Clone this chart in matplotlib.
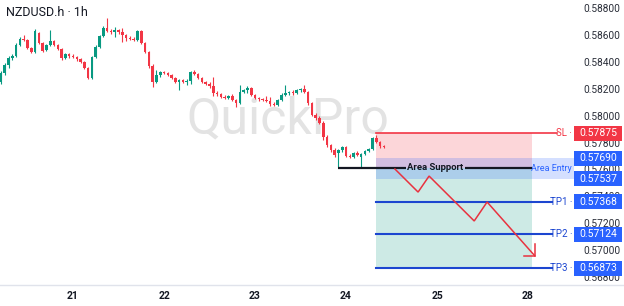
import matplotlib
matplotlib.use("Agg")
import matplotlib.pyplot as plt
import matplotlib.transforms as mtransforms
from matplotlib.patches import Rectangle
import numpy as np

plt.rcParams['font.family'] = ['Roboto', 'DejaVu Sans']

# ---------------- data ----------------
title = "NZDUSD.h · 1h"
watermark = "QuickPro"
day_labels = ["21", "22", "23", "24", "25", "28"]
day_hours = [0, 24, 48, 72, 96, 120]
first_hour = -19

opens = [0.58257, 0.58324, 0.58384, 0.58436, 0.58451, 0.58532, 0.58577, 0.58570, 0.58510, 0.58480, 0.58620, 0.58547,
         0.58495, 0.58532, 0.58562, 0.58532, 0.58503, 0.58436, 0.58466, 0.58451, 0.58443, 0.58428, 0.58406, 0.58361,
         0.58287, 0.58443, 0.58518, 0.58599, 0.58659, 0.58637, 0.58629, 0.58644, 0.58629, 0.58607, 0.58584, 0.58577,
         0.58570, 0.58637, 0.58547, 0.58480, 0.58376, 0.58257, 0.58309, 0.58332, 0.58324, 0.58309, 0.58287, 0.58257,
         0.58272, 0.58257, 0.58265, 0.58332, 0.58317, 0.58287, 0.58257, 0.58242, 0.58228, 0.58175, 0.58168, 0.58146,
         0.58138, 0.58153, 0.58123, 0.58101, 0.58183, 0.58198, 0.58213, 0.58161, 0.58138, 0.58131, 0.58123, 0.58116,
         0.58094, 0.58086, 0.58123, 0.58161, 0.58175, 0.58183, 0.58175, 0.58198, 0.58205, 0.58183, 0.58101, 0.58012,
         0.57990, 0.57952, 0.57848, 0.57789, 0.57752, 0.57729, 0.57752, 0.57774, 0.57707, 0.57700, 0.57729, 0.57700,
         0.57722, 0.57744, 0.57759, 0.57841, 0.57811, 0.57782]
highs = [0.58339, 0.58399, 0.58451, 0.58466, 0.58547, 0.58592, 0.58607, 0.58577, 0.58518, 0.58651, 0.58629, 0.58555,
         0.58540, 0.58644, 0.58570, 0.58540, 0.58510, 0.58473, 0.58473, 0.58466, 0.58451, 0.58436, 0.58414, 0.58369,
         0.58451, 0.58532, 0.58607, 0.58674, 0.58733, 0.58651, 0.58666, 0.58651, 0.58659, 0.58614, 0.58599, 0.58592,
         0.58644, 0.58644, 0.58555, 0.58488, 0.58391, 0.58347, 0.58339, 0.58339, 0.58332, 0.58317, 0.58294, 0.58280,
         0.58280, 0.58280, 0.58339, 0.58347, 0.58324, 0.58294, 0.58265, 0.58257, 0.58294, 0.58190, 0.58175, 0.58161,
         0.58161, 0.58168, 0.58131, 0.58235, 0.58205, 0.58228, 0.58220, 0.58168, 0.58146, 0.58138, 0.58153, 0.58146,
         0.58109, 0.58131, 0.58175, 0.58235, 0.58190, 0.58198, 0.58205, 0.58213, 0.58235, 0.58190, 0.58109, 0.58027,
         0.58005, 0.57967, 0.57863, 0.57796, 0.57767, 0.57759, 0.57782, 0.57782, 0.57722, 0.57737, 0.57744, 0.57729,
         0.57752, 0.57767, 0.57848, 0.57863, 0.57819, 0.57789]
lows = [0.58242, 0.58309, 0.58361, 0.58421, 0.58443, 0.58525, 0.58562, 0.58503, 0.58473, 0.58473, 0.58540, 0.58480,
        0.58488, 0.58525, 0.58525, 0.58495, 0.58421, 0.58428, 0.58436, 0.58436, 0.58414, 0.58399, 0.58354, 0.58280,
        0.58280, 0.58436, 0.58510, 0.58592, 0.58629, 0.58614, 0.58592, 0.58614, 0.58555, 0.58562, 0.58570, 0.58562,
        0.58562, 0.58540, 0.58473, 0.58361, 0.58220, 0.58250, 0.58294, 0.58317, 0.58302, 0.58280, 0.58250, 0.58198,
        0.58250, 0.58235, 0.58242, 0.58309, 0.58280, 0.58250, 0.58235, 0.58213, 0.58153, 0.58153, 0.58138, 0.58131,
        0.58131, 0.58116, 0.58070, 0.58094, 0.58175, 0.58175, 0.58153, 0.58131, 0.58116, 0.58116, 0.58109, 0.58079,
        0.58079, 0.58079, 0.58116, 0.58153, 0.58161, 0.58161, 0.58168, 0.58183, 0.58175, 0.58086, 0.58005, 0.57975,
        0.57945, 0.57826, 0.57774, 0.57737, 0.57700, 0.57625, 0.57737, 0.57700, 0.57692, 0.57692, 0.57707, 0.57625,
        0.57715, 0.57737, 0.57752, 0.57804, 0.57767, 0.57767]
closes = [0.58324, 0.58384, 0.58436, 0.58451, 0.58532, 0.58577, 0.58570, 0.58510, 0.58480, 0.58637, 0.58547, 0.58488,
          0.58532, 0.58562, 0.58532, 0.58503, 0.58436, 0.58466, 0.58451, 0.58443, 0.58428, 0.58406, 0.58361, 0.58287,
          0.58443, 0.58518, 0.58599, 0.58659, 0.58637, 0.58629, 0.58644, 0.58629, 0.58607, 0.58584, 0.58577, 0.58570,
          0.58637, 0.58547, 0.58480, 0.58376, 0.58257, 0.58309, 0.58332, 0.58324, 0.58309, 0.58287, 0.58257, 0.58272,
          0.58257, 0.58265, 0.58332, 0.58317, 0.58287, 0.58257, 0.58242, 0.58228, 0.58175, 0.58168, 0.58146, 0.58138,
          0.58153, 0.58123, 0.58101, 0.58183, 0.58198, 0.58213, 0.58161, 0.58138, 0.58131, 0.58123, 0.58116, 0.58094,
          0.58086, 0.58123, 0.58161, 0.58175, 0.58183, 0.58175, 0.58198, 0.58205, 0.58183, 0.58101, 0.58012, 0.57990,
          0.57952, 0.57848, 0.57789, 0.57752, 0.57715, 0.57752, 0.57774, 0.57707, 0.57700, 0.57729, 0.57715, 0.57722,
          0.57744, 0.57759, 0.57841, 0.57811, 0.57782, 0.57774]

price_ticks = [0.588, 0.586, 0.584, 0.582, 0.580, 0.578, 0.576, 0.574, 0.572, 0.570, 0.568]

sl_price = 0.57875
entry_high = 0.57690
entry_low = 0.57537
support_price = 0.57618
tp_prices = [0.57368, 0.57124, 0.56873]
tp_names = ["TP1", "TP2", "TP3"]

zigzag_hours = [84.9, 91.0, 93.9, 105.8, 109.2, 121.8]
zigzag_prices = [0.57610, 0.57439, 0.57558, 0.57224, 0.57365, 0.56964]

# ---------------- style ----------------
UP = '#089981'
DOWN = '#f23645'
BLUE = '#2962ff'
LINEBLUE = '#1c46d0'
TEXT = '#131722'

W, H = 624, 306
fig = plt.figure(figsize=(W / 100, H / 100), dpi=100)
ax = fig.add_axes([0, 21 / H, 1, 285 / H])
ymin, ymax = 0.56748, 0.58867
xmin, xmax = -19.25, 145.3
ax.set_xlim(xmin, xmax)
ax.set_ylim(ymin, ymax)
ppx = (ymax - ymin) / 285.0   # price per pixel
hpx = (xmax - xmin) / W       # hours per pixel

for s in ['top', 'left', 'right']:
    ax.spines[s].set_visible(False)
ax.spines['bottom'].set_color('#e0e3eb')
ax.spines['bottom'].set_linewidth(1.0)
ax.set_yticks([])
ax.set_xticks(day_hours)
ax.set_xticklabels(day_labels, fontsize=7.5, fontweight='bold', color=TEXT)
ax.tick_params(axis='x', length=0, pad=4.5)

# watermark
ax.text(56.7, 0.57878, watermark, fontsize=36, color='#e3e3e3', ha='center',
        va='baseline', zorder=0)

# title
fig.text(6 / W, 1 - 12 / H, title, fontsize=9, color=TEXT, ha='left', va='center',
         bbox=dict(facecolor='white', edgecolor='none', pad=1.5), zorder=10)

# candles
o = np.array(opens); h = np.array(highs); l = np.array(lows); c = np.array(closes)
xs = np.arange(len(o)) + first_hour
cols = np.where(c >= o, UP, DOWN)
ax.vlines(xs, l, h, colors=cols, linewidth=0.8, zorder=3)
bottoms = np.minimum(o, c)
heights = np.maximum(np.abs(c - o), 0.00003)
ax.bar(xs, heights, bottom=bottoms, width=0.68, color=cols, linewidth=0, zorder=4)

# zones
x_start = 80.0
x_end = 121.05
x_band_end = 132.1
ax.fill_between([x_start, x_end], support_price, sl_price, color=DOWN, alpha=0.2,
                linewidth=0, zorder=1)
ax.fill_between([x_start, x_end], tp_prices[-1], support_price, color=UP, alpha=0.2,
                linewidth=0, zorder=1)
ax.fill_between([x_start, x_band_end], entry_low, entry_high, color=BLUE, alpha=0.2,
                linewidth=0, zorder=1.5)

# SL line
ax.plot([x_start, 557 * hpx + xmin], [sl_price, sl_price], color=DOWN, lw=1.2, zorder=5)
# TP lines
for tp in tp_prices:
    ax.plot([x_start, 552 * hpx + xmin], [tp, tp], color=LINEBLUE, lw=1.5, zorder=5)

# support line with label
sup_start = 70.0
gap_l = (406 * hpx + xmin)
gap_r = (465 * hpx + xmin)
ax.plot([sup_start, gap_l], [support_price] * 2, color=TEXT, lw=1.6, zorder=6,
        solid_capstyle='butt')
ax.plot([gap_r, x_end], [support_price] * 2, color=TEXT, lw=1.6, zorder=6,
        solid_capstyle='butt')
ax.text((gap_l + gap_r) / 2, support_price, "Area Support", fontsize=6.8,
        fontweight='bold', color=TEXT, ha='center', va='center', zorder=7)

# zigzag arrow
ax.plot(zigzag_hours, zigzag_prices, color='#e8323f', lw=1.1, zorder=6,
        solid_joinstyle='miter')
tipx, tipy = zigzag_hours[-1], zigzag_prices[-1]
ax.plot([tipx - 11 * hpx, tipx, tipx], [tipy, tipy, tipy + 12 * ppx],
        color='#e8323f', lw=1.1, zorder=6, solid_joinstyle='miter')

# right price scale
trans = mtransforms.blended_transform_factory(ax.transAxes, ax.transData)
for p in price_ticks:
    ax.text(620 / W, p, f"{p:.5f}", transform=trans, fontsize=7.3, color='#2a2e39',
            ha='right', va='center', zorder=8, clip_on=False)

# Area Entry label
ax.text(572 / W, (entry_high + entry_low) / 2, "Area Entry", transform=trans,
        fontsize=6.4, color=BLUE, ha='right', va='center', zorder=8)


def price_box(price, color):
    half = 7.5 * ppx
    ax.add_patch(Rectangle((574 / W, price - half), 48 / W, 2 * half, transform=trans,
                           facecolor=color, edgecolor='none', zorder=9, clip_on=False))
    ax.text(598 / W, price, f"{price:.5f}", transform=trans, fontsize=7.5,
            color='white', ha='center', va='center', zorder=10, clip_on=False)


price_box(sl_price, DOWN)
ax.text(572 / W, sl_price, "SL ·", transform=trans, fontsize=7, color=DOWN,
        ha='right', va='center', zorder=8)
price_box(entry_high, BLUE)
price_box(entry_low, BLUE)
for name, tp in zip(tp_names, tp_prices):
    price_box(tp, BLUE)
    ax.text(572 / W, tp, f"{name} ·", transform=trans, fontsize=7, color=LINEBLUE,
            ha='right', va='center', zorder=8)

fig.savefig("out.png", dpi=100, facecolor='white')
